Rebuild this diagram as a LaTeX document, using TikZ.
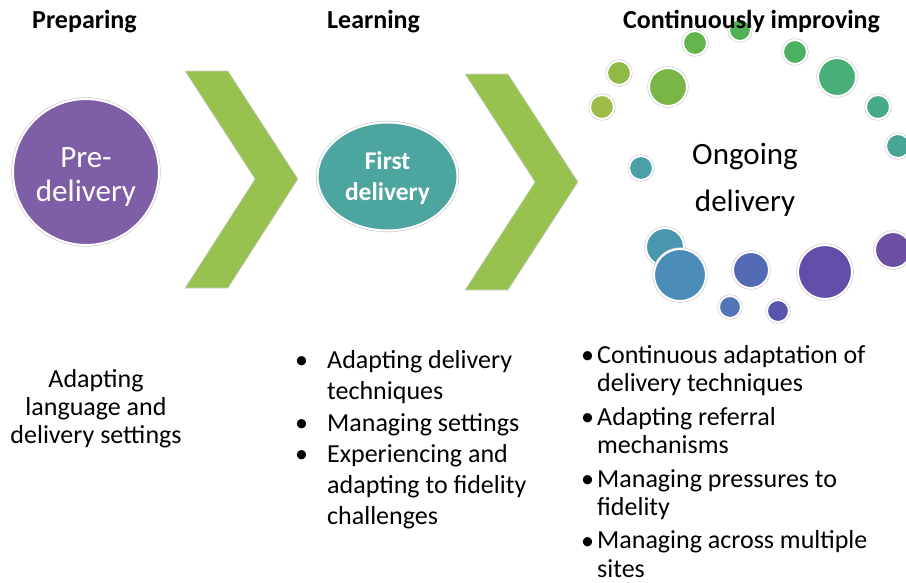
\documentclass[tikz,border=0pt]{standalone}
\usepackage{fontspec}
\setmainfont{Carlito}
\usetikzlibrary{shapes.geometric}
\definecolor{chev}{RGB}{151,194,79}
\definecolor{purp}{RGB}{126,94,166}
\definecolor{tealc}{RGB}{77,165,160}
\begin{document}
\begin{tikzpicture}[x=1pt,y=-1pt,
  head/.style={font=\fontsize{26}{31}\selectfont\bfseries, inner sep=0, anchor=base west},
  body/.style={font=\fontsize{26}{31}\selectfont, inner sep=0, align=left, anchor=base west},
  bodyr/.style={font=\fontsize{26}{28.5}\selectfont, inner sep=0, align=left, anchor=base west},
  bul/.style={font=\fontsize{26}{31}\selectfont, inner sep=0, anchor=base west},
  ringed/.style={inner sep=0, draw=white, line width=2pt, preaction={draw=gray!45, line width=3.2pt}},
  bub/.style={circle, ringed},
  chevron/.style={fill=chev, draw=gray!35, line width=0.6pt},
  big/.style={font=\fontsize{31}{34}\selectfont, align=center, text=white}
]
\useasboundingbox (0,0) rectangle (906,582);

% chevrons
\draw[chevron] (185,71) -- (228,71) -- (298,179) -- (228,288) -- (185,288) -- (255,179) -- cycle;
\draw[chevron] (465,74) -- (508,74) -- (578,182) -- (508,290) -- (465,290) -- (535,182) -- cycle;

% stage shapes
\node[circle, ringed, fill=purp, minimum size=146pt, big, text height=58pt, text depth=0pt] (pre) at (86,172) {Pre-\\delivery};
\node[ellipse, ringed, fill=tealc, minimum width=140pt, minimum height=108pt,
      font=\fontsize{25.5}{31}\selectfont\bfseries, align=center, text=white,
      text height=47pt, text depth=0pt] (first) at (387.5,176.5) {First\\delivery};

% bubbles
\node[bub, fill={rgb,255:red,160;green,188;blue,72}, minimum size=24pt] (b7) at (602,107) {};
\node[bub, fill={rgb,255:red,145;green,185;blue,72}, minimum size=24pt] (b4) at (619,73) {};
\node[bub, fill={rgb,255:red,120;green,182;blue,72}, minimum size=38pt] (b5) at (668,87) {};
\node[bub, fill={rgb,255:red,100;green,180;blue,78}, minimum size=24pt] (b2) at (695,43) {};
\node[bub, fill={rgb,255:red,80;green,178;blue,85}, minimum size=22pt] (b1) at (740,30) {};
\node[bub, fill={rgb,255:red,75;green,178;blue,100}, minimum size=24pt] (b3) at (795,52) {};
\node[bub, fill={rgb,255:red,72;green,175;blue,120}, minimum size=38pt] (b6) at (837,77) {};
\node[bub, fill={rgb,255:red,70;green,170;blue,138}, minimum size=24pt] (b8) at (878,107) {};
\node[bub, fill={rgb,255:red,72;green,165;blue,150}, minimum size=24pt] (b9) at (898,146) {};
\node[bub, fill={rgb,255:red,75;green,160;blue,165}, minimum size=24pt] (b10) at (641,168) {};
\node[bub, fill={rgb,255:red,72;green,150;blue,175}, minimum size=38pt] (b11) at (665,247) {};
\node[bub, fill={rgb,255:red,75;green,140;blue,185}, minimum size=52pt] (b12) at (680,275) {};
\node[bub, fill={rgb,255:red,80;green,118;blue,185}, minimum size=22pt] (b16) at (730,307) {};
\node[bub, fill={rgb,255:red,82;green,105;blue,180}, minimum size=36pt] (b13) at (751,270) {};
\node[bub, fill={rgb,255:red,88;green,85;blue,172}, minimum size=22pt] (b17) at (778,311) {};
\node[bub, fill={rgb,255:red,98;green,78;blue,168}, minimum size=54pt] (b14) at (825,272) {};
\node[bub, fill={rgb,255:red,108;green,78;blue,162}, minimum size=36pt] (b15) at (893,250) {};

\node[font=\fontsize{31}{47}\selectfont, align=center, inner sep=0] (ongoing) at (745,180) {Ongoing\\delivery};

% headings
\node[head] (h1) at (32,28) {Preparing};
\node[head] (h2) at (327,28) {Learning};
\node[head] (h3) at (623,28) {Continuously improving};

% preparing text (anchor at baseline of last line)
\node[font=\fontsize{26}{28}\selectfont, align=center, inner sep=0, anchor=base] (p1) at (96,443) {Adapting\\language and\\delivery settings};

% learning list (text anchors at baseline of last line)
\node[bul] (lb1) at (295,368) {•};
\node[body] (l1) at (327,399) {Adapting delivery\\techniques};
\node[bul] (lb2) at (295,431) {•};
\node[body] (l2) at (327,431) {Managing settings};
\node[bul] (lb3) at (295,462) {•};
\node[body] (l3) at (327,524) {Experiencing and\\adapting to fidelity\\challenges};

% continuously improving list
\node[bul] (rb1) at (581,363) {•};
\node[bodyr] (r1) at (597,391.5) {Continuous adaptation of\\delivery techniques};
\node[bul] (rb2) at (581,425) {•};
\node[bodyr] (r2) at (597,453.5) {Adapting referral\\mechanisms};
\node[bul] (rb3) at (581,487) {•};
\node[bodyr] (r3) at (597,515.5) {Managing pressures to\\fidelity};
\node[bul] (rb4) at (581,549) {•};
\node[bodyr] (r4) at (597,577) {Managing across multiple\\sites};
\end{tikzpicture}
\end{document}
